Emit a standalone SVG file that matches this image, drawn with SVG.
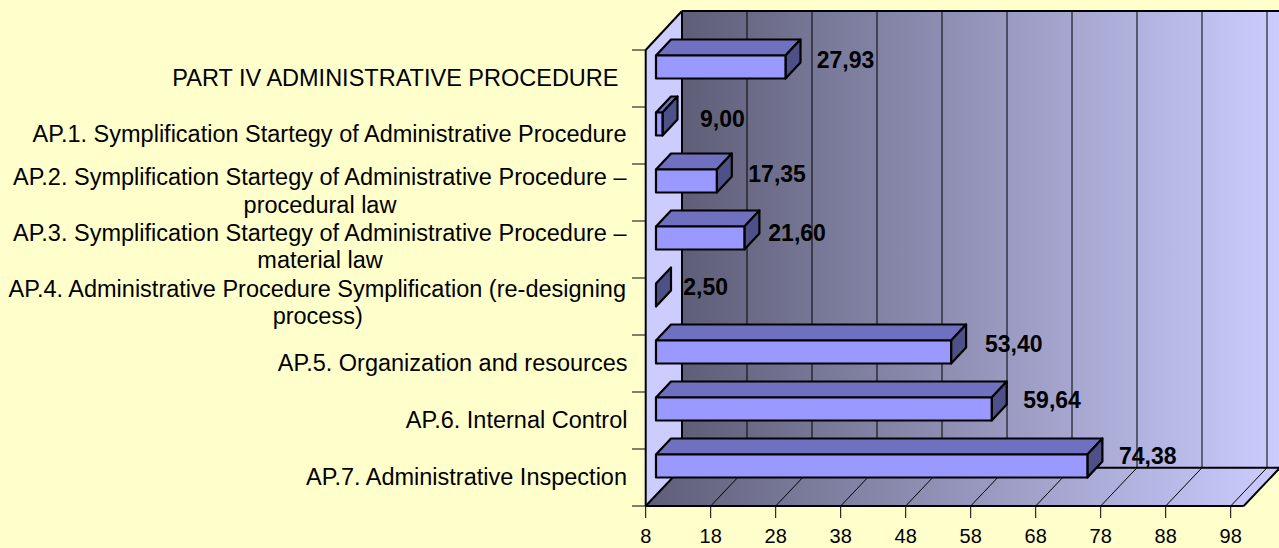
<svg xmlns="http://www.w3.org/2000/svg" width="1279" height="548" viewBox="0 0 1279 548">
<defs>
<linearGradient id="wallGrad" x1="682" y1="0" x2="1280" y2="0" gradientUnits="userSpaceOnUse">
<stop offset="0" stop-color="#5E5E78"/>
<stop offset="1" stop-color="#CCCCFF"/>
</linearGradient>
<linearGradient id="floorGrad" x1="645" y1="0" x2="1280" y2="0" gradientUnits="userSpaceOnUse">
<stop offset="0" stop-color="#5E5E78"/>
<stop offset="1" stop-color="#CCCCFF"/>
</linearGradient>
<style>
.cat{font-family:"Liberation Sans",Arial,sans-serif;font-size:23.5px;fill:#000}
.val{font-family:"Liberation Sans",Arial,sans-serif;font-size:23px;font-weight:bold;fill:#000}
.ax{font-family:"Liberation Sans",Arial,sans-serif;font-size:20px;fill:#000;text-anchor:middle}
.grid{stroke:#000;stroke-width:1;fill:none}
.edge{stroke:#000;stroke-width:2;fill:none}
.front{fill:#9999FF;stroke:#000;stroke-width:2.2;stroke-linejoin:round}
.top{fill:#7070C0;stroke:#000;stroke-width:2.2;stroke-linejoin:round}
.side{fill:#505088;stroke:#000;stroke-width:2.2;stroke-linejoin:round}
</style>
</defs>
<rect x="0" y="0" width="1279" height="548" fill="#FFFFCC"/>
<g id="plot-area">
<polygon points="682,11 1280,11 1280,467.7 682,467.7" fill="url(#wallGrad)"/>
<polygon points="682,467.7 1280,467.7 1243.7,506 645.7,506" fill="url(#floorGrad)"/>
<polygon points="645.7,50 682,11 682,467.7 645.7,506" fill="#CCCCFF"/>
</g>
<g id="connectors">
<g class="grid">
<line x1="747" y1="11" x2="747" y2="467.7"/>
<line x1="812" y1="11" x2="812" y2="467.7"/>
<line x1="877" y1="11" x2="877" y2="467.7"/>
<line x1="942" y1="11" x2="942" y2="467.7"/>
<line x1="1007" y1="11" x2="1007" y2="467.7"/>
<line x1="1072" y1="11" x2="1072" y2="467.7"/>
<line x1="1137" y1="11" x2="1137" y2="467.7"/>
<line x1="1202" y1="11" x2="1202" y2="467.7"/>
<line x1="1267" y1="11" x2="1267" y2="467.7"/>
<line x1="747" y1="467.7" x2="710.7" y2="506"/>
<line x1="812" y1="467.7" x2="775.7" y2="506"/>
<line x1="877" y1="467.7" x2="840.7" y2="506"/>
<line x1="942" y1="467.7" x2="905.7" y2="506"/>
<line x1="1007" y1="467.7" x2="970.7" y2="506"/>
<line x1="1072" y1="467.7" x2="1035.7" y2="506"/>
<line x1="1137" y1="467.7" x2="1100.7" y2="506"/>
<line x1="1202" y1="467.7" x2="1165.7" y2="506"/>
<line x1="1267" y1="467.7" x2="1230.7" y2="506"/>
</g>
<g class="edge">
<line x1="682" y1="11" x2="1280" y2="11"/>
<line x1="682" y1="11" x2="682" y2="467.7"/>
<line x1="682" y1="467.7" x2="1280" y2="467.7"/>
<line x1="682" y1="467.7" x2="645.7" y2="506"/>
<line x1="1280" y1="467.7" x2="1243.7" y2="506"/>
<line x1="645.7" y1="50" x2="682" y2="11"/>
<line x1="645.7" y1="50" x2="645.7" y2="506"/>
<line x1="645.7" y1="506" x2="1243.7" y2="506"/>
</g>
<g class="grid">
<line x1="632" y1="50" x2="645.7" y2="50"/>
<line x1="632" y1="107" x2="645.7" y2="107"/>
<line x1="632" y1="164" x2="645.7" y2="164"/>
<line x1="632" y1="221" x2="645.7" y2="221"/>
<line x1="632" y1="278" x2="645.7" y2="278"/>
<line x1="632" y1="335" x2="645.7" y2="335"/>
<line x1="632" y1="392" x2="645.7" y2="392"/>
<line x1="632" y1="449" x2="645.7" y2="449"/>
<line x1="632" y1="506" x2="645.7" y2="506"/>
<line x1="645.7" y1="506" x2="645.7" y2="518"/>
<line x1="710.7" y1="506" x2="710.7" y2="518"/>
<line x1="775.7" y1="506" x2="775.7" y2="518"/>
<line x1="840.7" y1="506" x2="840.7" y2="518"/>
<line x1="905.7" y1="506" x2="905.7" y2="518"/>
<line x1="970.7" y1="506" x2="970.7" y2="518"/>
<line x1="1035.7" y1="506" x2="1035.7" y2="518"/>
<line x1="1100.7" y1="506" x2="1100.7" y2="518"/>
<line x1="1165.7" y1="506" x2="1165.7" y2="518"/>
<line x1="1230.7" y1="506" x2="1230.7" y2="518"/>
</g>
</g>
<g id="axis-labels">
<text class="ax" x="645.7" y="543">8</text>
<text class="ax" x="710.7" y="543">18</text>
<text class="ax" x="775.7" y="543">28</text>
<text class="ax" x="840.7" y="543">38</text>
<text class="ax" x="905.7" y="543">48</text>
<text class="ax" x="970.7" y="543">58</text>
<text class="ax" x="1035.7" y="543">68</text>
<text class="ax" x="1100.7" y="543">78</text>
<text class="ax" x="1165.7" y="543">88</text>
<text class="ax" x="1230.7" y="543">98</text>
</g>
<g id="bar-part4">
<polygon class="top" points="656,55.5 671,39.5 800.5,39.5 785.5,55.5"/>
<polygon class="side" points="785.5,55.5 800.5,39.5 800.5,62.5 785.5,78.5"/>
<rect class="front" x="656" y="55.5" width="129.5" height="23"/>
<text class="val" x="816.7" y="68.3">27,93</text>
<text class="cat" x="618.5" y="85.7" text-anchor="end">PART IV ADMINISTRATIVE PROCEDURE</text>
</g>
<g id="bar-ap1">
<polygon class="top" points="656,112.5 671,96.5 677.5,96.5 662.5,112.5"/>
<polygon class="side" points="662.5,112.5 677.5,96.5 677.5,119.5 662.5,135.5"/>
<rect class="front" x="656" y="112.5" width="6.5" height="23"/>
<text class="val" x="700" y="126.7">9,00</text>
<text class="cat" x="626.5" y="141.7" text-anchor="end">AP.1. Symplification Startegy of Administrative Procedure</text>
</g>
<g id="bar-ap2">
<polygon class="top" points="656,169.5 671,153.5 731.8,153.5 716.8,169.5"/>
<polygon class="side" points="716.8,169.5 731.8,153.5 731.8,176.5 716.8,192.5"/>
<rect class="front" x="656" y="169.5" width="60.8" height="23"/>
<text class="val" x="748.3" y="181.7">17,35</text>
<text class="cat" x="626.5" y="185" text-anchor="end">AP.2. Symplification Startegy of Administrative Procedure –</text>
<text class="cat" x="320" y="212.5" text-anchor="middle">procedural law</text>
</g>
<g id="bar-ap3">
<polygon class="top" points="656,226.5 671,210.5 759.4,210.5 744.4,226.5"/>
<polygon class="side" points="744.4,226.5 759.4,210.5 759.4,233.5 744.4,249.5"/>
<rect class="front" x="656" y="226.5" width="88.4" height="23"/>
<text class="val" x="768.3" y="240.7">21,60</text>
<text class="cat" x="626.5" y="240.5" text-anchor="end">AP.3. Symplification Startegy of Administrative Procedure –</text>
<text class="cat" x="320" y="268" text-anchor="middle">material law</text>
</g>
<g id="bar-ap4">
<polygon class="side" points="656,283.5 671,267.5 671,290.5 656,306.5"/>
<text class="val" x="683.3" y="295">2,50</text>
<text class="cat" x="626" y="296.7" text-anchor="end">AP.4. Administrative Procedure Symplification (re-designing</text>
<text class="cat" x="317.7" y="324" text-anchor="middle">process)</text>
</g>
<g id="bar-ap5">
<polygon class="top" points="656,340.5 671,324.5 966.1,324.5 951.1,340.5"/>
<polygon class="side" points="951.1,340.5 966.1,324.5 966.1,347.5 951.1,363.5"/>
<rect class="front" x="656" y="340.5" width="295.1" height="23"/>
<text class="val" x="985" y="351.7">53,40</text>
<text class="cat" x="627.5" y="370.7" text-anchor="end">AP.5. Organization and resources</text>
</g>
<g id="bar-ap6">
<polygon class="top" points="656,397.5 671,381.5 1006.7,381.5 991.7,397.5"/>
<polygon class="side" points="991.7,397.5 1006.7,381.5 1006.7,404.5 991.7,420.5"/>
<rect class="front" x="656" y="397.5" width="335.7" height="23"/>
<text class="val" x="1023.3" y="408.3">59,64</text>
<text class="cat" x="627.5" y="428" text-anchor="end">AP.6. Internal Control</text>
</g>
<g id="bar-ap7">
<polygon class="top" points="656,454.5 671,438.5 1102.4,438.5 1087.4,454.5"/>
<polygon class="side" points="1087.4,454.5 1102.4,438.5 1102.4,461.5 1087.4,477.5"/>
<rect class="front" x="656" y="454.5" width="431.4" height="23"/>
<text class="val" x="1119" y="464.3">74,38</text>
<text class="cat" x="627" y="485" text-anchor="end">AP.7. Administrative Inspection</text>
</g>
</svg>
